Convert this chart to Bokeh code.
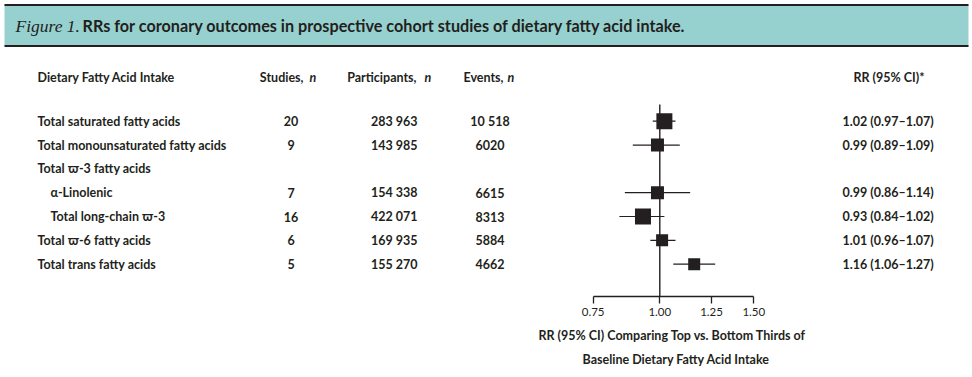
import math
from bokeh.plotting import figure
from bokeh.models import Range1d, FixedTicker, NumeralTickFormatter, ColumnDataSource, LinearScale, Title
from bokeh.core.properties import value
from bokeh.embed import file_html
from bokeh.resources import INLINE

# ---------------- data ----------------
labels = ["Total saturated fatty acids", "Total monounsaturated fatty acids",
          "Total \u03d6-3 fatty acids", "\u03b1-Linolenic", "Total long-chain \u03d6-3",
          "Total \u03d6-6 fatty acids", "Total trans fatty acids"]
indent = [0, 0, 0, 1, 1, 0, 0]
studies = ["20", "9", "", "7", "16", "6", "5"]
participants = ["283 963", "143 985", "", "154 338", "422 071", "169 935", "155 270"]
events = ["10 518", "6020", "", "6615", "8313", "5884", "4662"]
rr = [1.02, 0.99, None, 0.99, 0.93, 1.01, 1.16]
ci_low = [0.97, 0.89, None, 0.86, 0.84, 0.96, 1.06]
ci_high = [1.07, 1.09, None, 1.14, 1.02, 1.07, 1.27]
weight_px = [16, 13, None, 13, 16, 12, 12]   # square size (study weight)
ticks = [0.75, 1.00, 1.25, 1.50]

title_fig = "Figure 1."
title_rest = "RRs for coronary outcomes in prospective cohort studies of dietary fatty acid intake."
xlabel1 = "RR (95% CI) Comparing Top vs. Bottom Thirds of"
xlabel2 = "Baseline Dietary Fatty Acid Intake"

# ---------------- layout constants ----------------
W, H = 972, 377
AXIS_Y = 296                 # pixel row of the x axis line
PX_PER_LN = 231.7            # log-scale pixels per ln-unit
X_ONE = 659.3                # pixel position of RR = 1
ROW0, ROW_STEP = 120.7, 23.83
INK = "#231f20"
TEAL = "#96d1cf"
SANS = "Lato"
FS = "12.5px"

def prow(py):
    return (py - ROW0) / ROW_STEP

xlo = math.exp(-X_ONE / PX_PER_LN)
xhi = math.exp((W - X_ONE) / PX_PER_LN)

p = figure(width=W, height=H, x_axis_type="log", y_axis_location=None,
           x_range=Range1d(xlo, xhi), y_range=Range1d(prow(AXIS_Y), prow(0)),
           output_backend="svg", toolbar_location=None,
           min_border_left=0, min_border_right=0, min_border_top=0,
           min_border_bottom=H - AXIS_Y)
p.extra_x_ranges = {"px": Range1d(0, W)}
p.extra_x_scales = {"px": LinearScale()}
p.extra_y_ranges = {"py": Range1d(AXIS_Y, 0)}
p.extra_y_scales = {"py": LinearScale()}
p.grid.visible = False
p.outline_line_color = None
p.background_fill_color = "white"
p.border_fill_color = "white"

# ---------- title band ----------
p.quad(left=[4], right=[968], top=[4.5], bottom=[45.5], x_range_name="px", y_range_name="py",
       fill_color=TEAL, line_color=None)
p.segment(x0=[4, 4], x1=[968, 968], y0=[4.5, 45.5], y1=[4.5, 45.5], x_range_name="px",
          y_range_name="py", line_color=INK, line_width=2)
p.text(x=[15], y=[25], text=[title_fig], x_range_name="px", y_range_name="py",
       text_font=value("Liberation Serif"), text_font_style="italic", text_font_size="17.5px",
       text_color=INK, text_baseline="middle", text_align="left")
p.text(x=[82], y=[25], text=[title_rest], x_range_name="px", y_range_name="py",
       text_font=value(SANS), text_font_style="bold", text_font_size="16.2px",
       text_color=INK, text_baseline="middle", text_align="left")

# ---------- headers ----------
hy = 76.7
def htext(x, t, align="left", italic=False):
    p.text(x=[x], y=[hy], text=[t], x_range_name="px", y_range_name="py",
           text_font=value(SANS), text_font_style="bold italic" if italic else "bold",
           text_font_size=FS, text_color=INK, text_baseline="middle", text_align=align)

htext(37, "Dietary Fatty Acid Intake")
htext(303, "Studies,", "right"); htext(309, "n", italic=True)
htext(416, "Participants,", "right"); htext(424, "n", italic=True)
htext(503, "Events,", "right"); htext(507, "n", italic=True)
htext(853, "RR (95% CI)*")

# ---------- table rows ----------
rows = list(range(len(labels)))
rr_text = [("%.2f (%.2f\u2013%.2f)" % (a, b, c)) if a is not None else ""
           for a, b, c in zip(rr, ci_low, ci_high)]
src = ColumnDataSource(dict(
    row=rows, label=labels, lx=[37 + 13 * i for i in indent],
    studies=studies, participants=participants, events=events, rrt=rr_text,
    sx=[290.5] * len(rows), px_=[393.7] * len(rows), ex=[489.5] * len(rows), rx=[842] * len(rows)))

common = dict(source=src, x_range_name="px", text_font=value(SANS), text_font_style="bold",
              text_font_size=FS, text_color=INK, text_baseline="middle")
p.text(x="lx", y="row", text="label", text_align="left", **common)
p.text(x="sx", y="row", text="studies", text_align="center", **common)
p.text(x="px_", y="row", text="participants", text_align="center", **common)
p.text(x="ex", y="row", text="events", text_align="center", **common)
p.text(x="rx", y="row", text="rrt", text_align="left", **common)

# ---------- forest ----------
fr = [i for i in rows if rr[i] is not None]
fsrc = ColumnDataSource(dict(
    row=fr, rr=[rr[i] for i in fr], lo=[ci_low[i] for i in fr], hi=[ci_high[i] for i in fr],
    sz=[weight_px[i] for i in fr]))
# reference line at RR = 1
p.segment(x0=[1.0], x1=[1.0], y0=[prow(104)], y1=[prow(AXIS_Y)], line_color=INK, line_width=1.4)
p.segment(x0="lo", x1="hi", y0="row", y1="row", source=fsrc, line_color=INK, line_width=1.2)
p.rect(x="rr", y="row", width="sz", height="sz", width_units="screen", height_units="screen",
       source=fsrc, fill_color=INK, line_color=None)

# ---------- x axis ----------
ax = p.xaxis[0]
ax.ticker = FixedTicker(ticks=ticks)
ax.formatter = NumeralTickFormatter(format="0.00")
ax.bounds = (ticks[0], ticks[-1])
ax.axis_line_color = INK
ax.axis_line_width = 1.3
ax.major_tick_line_color = INK
ax.major_tick_line_width = 1.3
ax.major_tick_in = 0
ax.major_tick_out = 7
ax.minor_tick_line_color = None
ax.major_label_standoff = 4
ax.major_label_text_font = SANS
ax.major_label_text_font_size = "11.5px"
ax.major_label_text_color = INK

# axis title (two lines) as below-panel titles, left-aligned with pixel offsets
for t, off, so in [(xlabel1, 538, 14), (xlabel2, 582, 0)]:
    p.add_layout(Title(text=t, align="left", offset=off, standoff=so,
                       text_font=SANS, text_font_style="bold", text_font_size=FS,
                       text_color=INK), "below")

open("out.html", "w").write(file_html(p, INLINE))
